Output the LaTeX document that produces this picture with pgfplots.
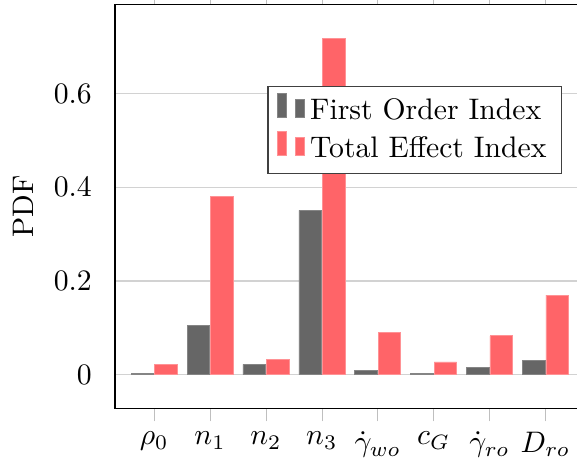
\documentclass[border=0pt]{standalone}
\usepackage{pgfplots}
\pgfplotsset{compat=1.18}
\usetikzlibrary{calc}
\definecolor{firstorder}{HTML}{666666}
\definecolor{totaleffect}{HTML}{FF6468}
\begin{document}
\begin{tikzpicture}
\begin{axis}[
  name=ax,
  scale only axis,
  width=158.1pt, height=136.0pt,
  ybar=0.3pt, bar width=7.6pt,
  xmin=-0.7, xmax=7.7,
  ymin=-0.0726, ymax=0.79,
  xtick={0,1,2,3,4,5,6,7},
  xticklabels={$\rho_0$,$n_1$,$n_2$,$n_3$,$\dot\gamma_{wo}$,$c_G$,$\dot\gamma_{ro}$,$D_{ro}$},
  ytick={0,0.2,0.4,0.6},
  ymajorgrids,
  grid style={gray!35},
  tick align=outside,
  xtick pos=both,
  xtick style={draw=gray!50},
  ytick style={draw=none},
  ylabel={PDF},
  legend style={at={(0.952,0.7987)}, anchor=north east, draw=black!75,
    font=\normalsize, row sep=0.3pt},
  legend cell align=left,
]
\addplot[fill=firstorder, draw=firstorder!80!white, line width=0.2pt] coordinates {
  (0,0.003) (1,0.105) (2,0.022) (3,0.351) (4,0.009) (5,0.002) (6,0.015) (7,0.031)};
\addplot[fill=totaleffect, draw=totaleffect!70!white, line width=0.2pt] coordinates {
  (0,0.021) (1,0.380) (2,0.032) (3,0.718) (4,0.090) (5,0.027) (6,0.083) (7,0.170)};
\legend{First Order Index, Total Effect Index}
\end{axis}
\pgfresetboundingbox
\path ($(ax.south west)+(-38.72pt,-18.35pt)$) rectangle ($(ax.south west)+(155.56pt,137.58pt)$);
\end{tikzpicture}
\end{document}
